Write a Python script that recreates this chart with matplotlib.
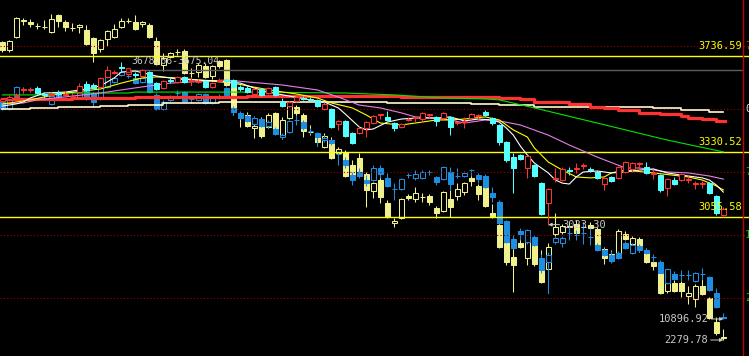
import matplotlib
matplotlib.use("Agg")
import matplotlib.pyplot as plt
from matplotlib.patches import Rectangle

# main index, (open, high, low, close) per day
main_ohlc = [
    (3546, 3559, 3538, 3555), (3555, 3572, 3546, 3563), (3567, 3580, 3559, 3572), (3593, 3606, 3580, 3597),
    (3593, 3601, 3584, 3597), (3601, 3610, 3576, 3580), (3576, 3584, 3559, 3572), (3572, 3584, 3563, 3576),
    (3580, 3593, 3567, 3576), (3572, 3589, 3563, 3576), (3567, 3580, 3559, 3568), (3584, 3622, 3580, 3610),
    (3618, 3631, 3589, 3593), (3614, 3622, 3597, 3601), (3606, 3648, 3601, 3644), (3648, 3694, 3644, 3677),
    (3665, 3677, 3661, 3669), (3690, 3711, 3669, 3686), (3661, 3682, 3652, 3673), (3661, 3669, 3644, 3656),
    (3652, 3682, 3648, 3677), (3669, 3673, 3622, 3627), (3622, 3627, 3593, 3597), (3601, 3635, 3597, 3631),
    (3635, 3648, 3622, 3631), (3627, 3652, 3622, 3648), (3648, 3652, 3622, 3627), (3631, 3648, 3614, 3635),
    (3627, 3639, 3622, 3631), (3631, 3635, 3601, 3606), (3606, 3627, 3601, 3622), (3631, 3644, 3627, 3635),
    (3635, 3644, 3622, 3631), (3635, 3639, 3601, 3606), (3606, 3614, 3589, 3597), (3601, 3610, 3580, 3584),
    (3576, 3601, 3572, 3597), (3597, 3601, 3567, 3572), (3580, 3606, 3576, 3601), (3606, 3610, 3567, 3572),
    (3542, 3559, 3521, 3525), (3525, 3546, 3521, 3542), (3546, 3567, 3542, 3563), (3559, 3567, 3551, 3555),
    (3555, 3563, 3546, 3551), (3551, 3555, 3521, 3525), (3512, 3542, 3508, 3534), (3512, 3517, 3432, 3436),
    (3449, 3466, 3424, 3462), (3462, 3466, 3394, 3398), (3411, 3415, 3364, 3369), (3411, 3436, 3407, 3432),
    (3432, 3462, 3394, 3457), (3453, 3487, 3449, 3483), (3487, 3491, 3470, 3491), (3479, 3504, 3462, 3466),
    (3453, 3457, 3419, 3432), (3436, 3453, 3432, 3449), (3466, 3479, 3462, 3470), (3474, 3483, 3457, 3479),
    (3470, 3500, 3457, 3496), (3487, 3491, 3474, 3491), (3479, 3483, 3441, 3462), (3474, 3500, 3470, 3496),
    (3479, 3483, 3402, 3436), (3453, 3457, 3445, 3457), (3457, 3479, 3432, 3462), (3474, 3496, 3470, 3491),
    (3483, 3491, 3466, 3487), (3500, 3508, 3483, 3487), (3474, 3479, 3445, 3453), (3445, 3449, 3360, 3373),
    (3373, 3377, 3288, 3297), (3309, 3326, 3157, 3263), (3318, 3322, 3297, 3301), (3263, 3318, 3221, 3314),
    (3276, 3280, 3225, 3229), (3199, 3204, 3064, 3068), (3115, 3178, 3023.30, 3174), (3216, 3263, 3204, 3221),
    (3212, 3267, 3208, 3259), (3254, 3267, 3233, 3250), (3259, 3284, 3242, 3263), (3271, 3284, 3259, 3276),
    (3259, 3267, 3246, 3254), (3246, 3254, 3216, 3221), (3195, 3225, 3170, 3221), (3225, 3229, 3204, 3208),
    (3221, 3271, 3216, 3267), (3246, 3292, 3242, 3288), (3259, 3288, 3246, 3284), (3280, 3288, 3254, 3284),
    (3267, 3288, 3237, 3242), (3237, 3254, 3216, 3242), (3233, 3237, 3161, 3170), (3178, 3221, 3144, 3216),
    (3212, 3225, 3191, 3195), (3212, 3242, 3208, 3237), (3212, 3229, 3199, 3216), (3195, 3208, 3174, 3199),
    (3195, 3208, 3178, 3199), (3199, 3204, 3153, 3157), (3144, 3149, 3064, 3073), (3064, 3098, 3055.58, 3089),
]

# overlay 1 (blue)
sz_ohlc = [
    (14708, 14744, 14568, 14585), (14585, 14779, 14568, 14761), (14796, 14989, 14779, 14972), (14919, 14972, 14866, 14920),
    (14937, 14972, 14884, 14938), (14937, 14954, 14849, 14866), (14831, 14884, 14796, 14832), (14673, 14831, 14656, 14814),
    (14866, 14884, 14744, 14796), (14831, 14866, 14796, 14832), (14796, 14884, 14761, 14797), (14779, 14919, 14761, 14902),
    (14954, 15060, 14744, 14761), (14866, 14884, 14621, 14708), (14761, 14989, 14744, 14972), (14972, 15183, 14954, 15165),
    (15060, 15147, 15042, 15130), (15183, 15341, 15165, 15235), (15165, 15218, 15130, 15166), (15130, 15165, 15025, 15042),
    (15060, 15165, 15042, 15130), (15147, 15165, 14866, 14884), (14831, 14866, 14568, 14585), (14585, 14744, 14568, 14708),
    (14744, 14831, 14726, 14814), (14866, 14919, 14796, 14867), (14884, 14902, 14708, 14726), (14761, 14814, 14691, 14762),
    (14744, 14866, 14726, 14849), (14849, 14866, 14673, 14691), (14691, 14814, 14673, 14796), (14814, 14849, 14761, 14815),
    (14954, 14972, 14814, 14831), (14603, 14638, 14480, 14533), (14515, 14550, 14410, 14427), (14462, 14498, 14357, 14375),
    (14322, 14462, 14304, 14427), (14410, 14427, 14269, 14287), (14287, 14392, 14252, 14357), (14234, 14269, 14129, 14146),
    (14094, 14164, 14059, 14129), (14181, 14392, 14164, 14375), (14392, 14480, 14304, 14393), (14357, 14392, 14217, 14252),
    (14199, 14252, 14146, 14200), (14164, 14181, 13935, 14094), (14041, 14129, 14006, 14076), (14041, 14059, 13953, 13988),
    (13795, 13830, 13602, 13796), (13690, 13742, 13549, 13602), (13426, 13479, 13251, 13338), (13479, 13549, 13373, 13409),
    (13338, 13426, 13233, 13286), (13338, 13602, 13321, 13549), (13549, 13602, 13373, 13444), (13373, 13461, 13215, 13233),
    (13180, 13286, 12987, 13181), (13180, 13373, 13163, 13356), (13426, 13461, 13373, 13427), (13373, 13514, 13338, 13444),
    (13373, 13514, 13356, 13479), (13479, 13514, 13426, 13480), (13391, 13409, 13251, 13303), (13356, 13584, 13338, 13567),
    (13479, 13567, 13163, 13268), (13409, 13549, 13373, 13410), (13409, 13497, 13391, 13461), (13514, 13532, 13409, 13515),
    (13426, 13461, 13286, 13356), (13409, 13444, 13198, 13215), (13110, 13215, 12952, 13040), (12952, 12987, 12566, 12583),
    (12618, 12636, 12232, 12249), (12302, 12372, 12126, 12144), (12443, 12495, 12284, 12390), (12249, 12478, 12214, 12460),
    (12337, 12372, 12179, 12197), (11968, 12039, 11705, 11757), (11898, 12074, 11354, 12021), (12249, 12355, 12214, 12320),
    (12232, 12355, 12162, 12320), (12407, 12548, 12284, 12408), (12372, 12460, 12284, 12373), (12407, 12583, 12214, 12408),
    (12337, 12495, 12197, 12338), (12197, 12232, 12091, 12109), (12109, 12144, 12003, 12021), (12021, 12091, 11880, 11916),
    (12056, 12091, 11951, 11968), (12232, 12267, 12126, 12144), (12056, 12232, 12039, 12197), (12179, 12214, 12074, 12109),
    (12109, 12144, 12039, 12056), (11986, 12039, 11898, 11987), (11898, 11933, 11705, 11705), (11529, 11793, 11511, 11775),
    (11687, 11740, 11582, 11599), (11670, 11757, 11564, 11671), (11670, 11757, 11582, 11671), (11564, 11722, 11547, 11705),
    (11687, 11793, 11599, 11688), (11634, 11652, 11389, 11406), (11354, 11441, 11090, 11108), (10932, 11002, 10896.92, 10914),
]

# overlay 2 (pale yellow)
cy_ohlc = [
    (3413.3, 3417.1, 3375.2, 3382.8), (3382.8, 3420.9, 3375.2, 3417.1), (3432.3, 3508.3, 3428.5, 3504.5), (3493.1, 3504.5, 3477.9, 3496.9),
    (3489.3, 3500.7, 3470.3, 3481.7), (3474.1, 3485.5, 3462.7, 3474.5), (3470.3, 3496.9, 3462.7, 3470.7), (3451.3, 3519.7, 3447.5, 3500.7),
    (3515.9, 3519.7, 3470.3, 3493.1), (3489.3, 3496.9, 3455.1, 3470.3), (3466.5, 3485.5, 3455.1, 3466.9), (3470.3, 3481.7, 3447.5, 3477.9),
    (3458.9, 3477.9, 3401.8, 3405.7), (3428.5, 3432.3, 3337.2, 3371.4), (3386.6, 3424.7, 3375.2, 3420.9), (3424.7, 3458.9, 3398.0, 3455.1),
    (3432.3, 3481.7, 3428.5, 3462.7), (3470.3, 3504.5, 3466.5, 3493.1), (3493.1, 3504.5, 3485.5, 3493.5), (3489.3, 3515.9, 3458.9, 3462.7),
    (3481.7, 3493.1, 3470.3, 3489.3), (3477.9, 3485.5, 3428.5, 3432.3), (3417.1, 3432.3, 3325.8, 3329.6), (3325.8, 3371.4, 3303.0, 3352.4),
    (3356.2, 3375.2, 3352.4, 3371.4), (3375.2, 3386.6, 3363.8, 3375.6), (3379.0, 3386.6, 3291.5, 3295.3), (3295.3, 3314.4, 3249.7, 3295.7),
    (3299.1, 3333.4, 3280.1, 3325.8), (3322.0, 3333.4, 3276.3, 3280.1), (3283.9, 3325.8, 3272.5, 3322.0), (3341.0, 3344.8, 3314.4, 3322.0),
    (3344.8, 3348.6, 3245.9, 3249.7), (3245.9, 3249.7, 3135.6, 3154.6), (3128.0, 3147.0, 3089.9, 3128.4), (3135.6, 3147.0, 3089.9, 3093.7),
    (3086.1, 3112.8, 3048.1, 3093.7), (3093.7, 3128.0, 3048.1, 3055.7), (3089.9, 3143.2, 3086.1, 3135.6), (3143.2, 3147.0, 3078.5, 3082.3),
    (3055.7, 3128.0, 3044.3, 3116.6), (3124.2, 3181.2, 3120.4, 3169.8), (3166.0, 3173.6, 3131.8, 3143.2), (3135.6, 3143.2, 3051.9, 3074.7),
    (3070.9, 3097.5, 3059.5, 3071.3), (3055.7, 3063.3, 3017.7, 3032.9), (3013.9, 3067.1, 3010.1, 3055.7), (3040.5, 3051.9, 2968.2, 2972.0),
    (2991.1, 3013.9, 2983.4, 3006.3), (2994.9, 3002.5, 2899.8, 2903.6), (2945.4, 2964.4, 2903.6, 2907.4), (2972.0, 2991.1, 2907.4, 2915.0),
    (2911.2, 2918.8, 2785.7, 2850.3), (2846.5, 2880.7, 2819.9, 2876.9), (2888.4, 2907.4, 2800.9, 2823.7), (2800.9, 2812.3, 2743.8, 2747.6),
    (2724.8, 2743.8, 2709.6, 2732.4), (2743.8, 2819.9, 2740.0, 2816.1), (2827.5, 2835.1, 2812.3, 2819.9), (2816.1, 2861.7, 2804.7, 2838.9),
    (2823.7, 2838.9, 2804.7, 2824.1), (2827.5, 2835.1, 2793.3, 2804.7), (2781.9, 2789.5, 2743.8, 2762.8), (2770.4, 2846.5, 2766.6, 2842.7),
    (2816.1, 2850.3, 2747.6, 2785.7), (2827.5, 2876.9, 2812.3, 2854.1), (2842.7, 2880.7, 2831.3, 2876.9), (2896.0, 2907.4, 2865.5, 2884.6),
    (2865.5, 2873.1, 2812.3, 2835.1), (2884.6, 2892.2, 2785.7, 2789.5), (2762.8, 2797.1, 2743.8, 2747.6), (2717.2, 2728.6, 2629.7, 2633.5),
    (2648.7, 2652.5, 2565.0, 2576.5), (2595.5, 2660.1, 2462.4, 2565.0), (2648.7, 2679.2, 2629.7, 2633.5), (2591.7, 2671.6, 2565.0, 2667.8),
    (2641.1, 2648.7, 2561.2, 2568.9), (2546.0, 2622.1, 2496.6, 2500.4), (2549.8, 2648.7, 2458.5, 2633.5), (2683.0, 2762.8, 2675.4, 2709.6),
    (2690.6, 2721.0, 2683.0, 2713.4), (2709.6, 2728.6, 2698.2, 2713.4), (2721.0, 2736.2, 2683.0, 2686.8), (2709.6, 2728.6, 2698.2, 2710.0),
    (2717.2, 2728.6, 2702.0, 2705.8), (2702.0, 2709.6, 2633.5, 2637.3), (2625.9, 2633.5, 2568.9, 2591.7), (2606.9, 2622.1, 2576.5, 2587.9),
    (2610.7, 2702.0, 2606.9, 2694.4), (2683.0, 2694.4, 2660.1, 2664.0), (2644.9, 2675.4, 2637.3, 2667.8), (2664.0, 2671.6, 2614.5, 2629.7),
    (2618.3, 2629.7, 2572.7, 2576.5), (2576.5, 2591.7, 2546.0, 2561.2), (2534.6, 2546.0, 2454.7, 2458.5), (2466.2, 2538.4, 2458.5, 2534.6),
    (2496.6, 2508.0, 2462.4, 2466.2), (2496.6, 2504.2, 2443.3, 2466.2), (2447.1, 2485.2, 2416.7, 2458.5), (2435.7, 2492.8, 2405.3, 2485.2),
    (2485.2, 2511.8, 2450.9, 2454.7), (2439.5, 2443.3, 2359.7, 2363.5), (2348.2, 2367.3, 2298.8, 2306.4), (2291.2, 2321.6, 2279.78, 2287.4),
]

# moving averages of the main index, (day, value)
ma5 = [(0, 3525), (2, 3534), (3, 3542), (4, 3559), (6, 3580), (9, 3584), (12, 3597), (14, 3610), (16, 3644), (17, 3669),
       (19, 3673), (22, 3652), (25, 3639), (28, 3635), (31, 3631), (34, 3622), (36, 3601), (38, 3584), (41, 3567), (44, 3551),
       (46, 3542), (48, 3517), (49, 3491), (51, 3436), (52, 3424), (53, 3428), (55, 3457), (57, 3470), (59, 3474), (62, 3474),
       (64, 3479), (66, 3462), (68, 3470), (70, 3466), (71, 3457), (72, 3432), (73, 3402), (74, 3356), (75, 3318), (76, 3284),
       (77, 3263), (78, 3242), (79, 3212), (80, 3199), (81, 3195), (82, 3225), (83, 3246), (85, 3250), (87, 3242), (89, 3246),
       (91, 3254), (93, 3259), (95, 3242), (97, 3233), (99, 3225), (100, 3221), (101, 3212), (102, 3191), (103, 3161)]
ma10 = [(0, 3534), (2, 3542), (4, 3551), (8, 3576), (14, 3597), (17, 3622), (20, 3644), (22, 3648), (25, 3644), (28, 3635),
        (33, 3622), (35, 3610), (39, 3589), (42, 3576), (45, 3559), (47, 3538), (50, 3517), (52, 3487), (54, 3453), (57, 3445),
        (59, 3453), (62, 3466), (64, 3466), (66, 3470), (69, 3479), (71, 3466), (73, 3424), (75, 3394), (76, 3348), (78, 3288),
        (80, 3254), (82, 3225), (84, 3221), (86, 3225), (87, 3242), (89, 3254), (93, 3242), (98, 3225), (100, 3212), (102, 3187),
        (103, 3170)]
ma20 = [(0, 3534), (3, 3538), (5, 3551), (14, 3580), (20, 3606), (24, 3622), (32, 3635), (35, 3627), (40, 3614), (45, 3593),
        (48, 3563), (51, 3529), (54, 3517), (57, 3496), (59, 3479), (62, 3474), (64, 3466), (66, 3453), (69, 3466), (71, 3462),
        (74, 3445), (78, 3402), (81, 3360), (85, 3309), (89, 3263), (91, 3263), (95, 3246), (98, 3242), (101, 3229), (103, 3216)]
ma60 = [(0, 3572), (6, 3572), (8, 3580), (18, 3580), (19, 3584), (35, 3584), (49, 3580), (56, 3572), (63, 3559), (69, 3555),
        (71, 3551), (76, 3517), (85, 3453), (95, 3381), (103, 3331)]
ma120 = [(0, 3553), (5, 3555), (10, 3557), (16, 3561), (19, 3565), (35, 3569), (57, 3563), (71, 3561), (74, 3555), (76, 3543),
         (81, 3534), (84, 3521), (86, 3515), (88, 3508), (91, 3497), (94, 3490), (97, 3483), (98, 3476), (100, 3469), (102, 3462),
         (103.3, 3460)]
ma250 = [(0, 3511), (4, 3515), (8, 3520), (14, 3525), (18, 3529), (23, 3536), (31, 3542), (35, 3543), (55, 3538), (67, 3534),
         (71, 3529), (76, 3521), (93, 3517), (97, 3508), (101, 3501), (103, 3501)]

price_lines = [3736.59, 3330.52, 3055.58]
grid_base = 3511.2
grid_pct = [7.59, 0.0, -7.59, -15.18, -22.77]
high_mark = (18, 3678.66)

MONO = "DejaVu Sans Mono"
GRAY = "#c8c8c8"


def draw_candles(ax, ohlc, up_col, down_col, width=0.68, lw=0.75):
    for i, (o, h, l, c) in enumerate(ohlc):
        up = c >= o
        col = up_col if up else down_col
        ax.vlines(i, l, h, color=col, lw=lw, zorder=2)
        ax.add_patch(Rectangle((i - width / 2, min(o, c)), width, abs(c - o),
                               facecolor="black" if up else col, edgecolor=col,
                               lw=lw, zorder=3))


fig = plt.figure(figsize=(7.49, 3.56), dpi=100, facecolor="black")
ax = fig.add_axes([0, 0, 1, 1])
ax_cy = ax.twinx()
ax_sz = ax.twinx()
for a in (ax, ax_cy, ax_sz):
    a.set_xlim(-0.33, 106.67)
    a.axis("off")
ax.set_ylim(2467.6, 3973.5)
ax_sz.set_ylim(10247.0, 16500.1)
ax_cy.set_ylim(2218.9, 3573.0)
ax_cy.set_zorder(1)
ax_sz.set_zorder(2)
ax.set_zorder(3)

# grid + price lines
for p in grid_pct:
    ax.axhline(grid_base * (1 + p / 100), color="#9a0000", lw=0.8, ls=(0, (1, 2)), zorder=0)
for p in price_lines:
    ax.axhline(p, color="#ffff00", lw=1.0, zorder=1)
ax.hlines(high_mark[1], high_mark[0], 105.8, color="#5c5c5c", lw=1.0, zorder=1)
ax.axvline(105.81, color="#c00000", lw=1.0)

draw_candles(ax_cy, cy_ohlc, "#f0f08c", "#f0f08c")
draw_candles(ax_sz, sz_ohlc, "#1e8fe0", "#1e8fe0")

for ma, col, lw, ds in [(ma250, "#fffbd0", 1.2, "steps-post"), (ma120, "#ff3232", 2.3, "steps-post"),
                        (ma60, "#00e600", 0.8, "default"), (ma20, "#e77fe7", 0.8, "default"),
                        (ma10, "#ffff00", 0.8, "default"), (ma5, "#ffffff", 0.8, "default")]:
    xs, ys = zip(*ma)
    ax.plot(xs, ys, color=col, lw=lw, drawstyle=ds, zorder=1.5)

draw_candles(ax, main_ohlc, "#ff3232", "#54ffff")

# labels
for p in price_lines:
    ax.annotate(f"{p:.2f}", xy=(105.67, p), xytext=(0, 3.5), textcoords="offset points",
                ha="right", va="bottom", color="#ffff00", fontsize=7.5, family=MONO)
for p in grid_pct:
    col = "#ff3232" if p > 0 else ("#e0e0e0" if p == 0 else "#00d000")
    ax.text(106.1, grid_base * (1 + p / 100), f"{abs(p):.2f}%", color=col, fontsize=7.5,
            family=MONO, ha="left", va="center")

ax.plot(*high_mark, "s", ms=2.5, mfc="#400000", mec="#d03030", mew=0.8, zorder=4)
ax.annotate("3678.66-3675.04", xy=high_mark, xytext=(2, 3), textcoords="offset points",
            ha="left", va="bottom", color=GRAY, fontsize=7, family=MONO, zorder=5)

arrow = dict(arrowstyle="-|>", color=GRAY, lw=0.7, mutation_scale=5, shrinkA=0, shrinkB=0)
ax.annotate("3023.30", xy=(78, 3023.30), xytext=(80.0, 3023.30), ha="left", va="center",
            color=GRAY, fontsize=7.5, family=MONO, arrowprops=arrow, zorder=5)
ax_sz.annotate("10896.92", xy=(103, 10896.92), xytext=(100.9, 10896.92), ha="right", va="center",
               color=GRAY, fontsize=7.5, family=MONO, arrowprops=arrow)
ax_cy.annotate("2279.78", xy=(103, 2279.78), xytext=(100.8, 2279.78), ha="right", va="center",
               color=GRAY, fontsize=7.5, family=MONO, arrowprops=arrow)

fig.savefig("out.png", dpi=100, facecolor="black")
